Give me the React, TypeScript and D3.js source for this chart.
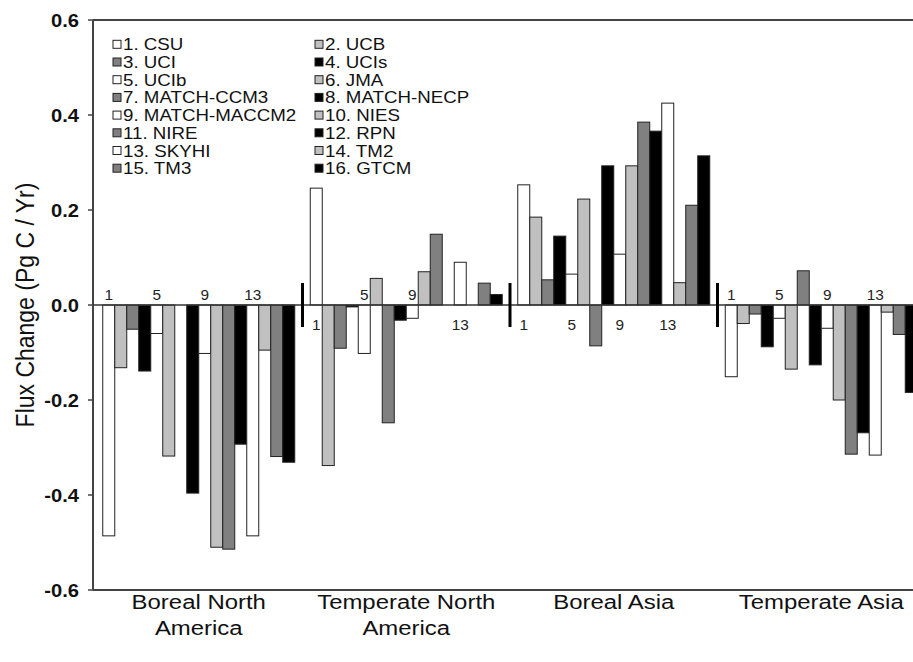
import React, { useEffect, useRef } from "react";
import * as d3 from "d3";

const regions = ["Boreal North America", "Temperate North America", "Boreal Asia", "Temperate Asia"];
const regionLines = [["Boreal North", "America"], ["Temperate North", "America"], ["Boreal Asia"], ["Temperate Asia"]];
const models = [
  "1. CSU", "2. UCB", "3. UCI", "4. UCIs", "5. UCIb", "6. JMA", "7. MATCH-CCM3", "8. MATCH-NECP",
  "9. MATCH-MACCM2", "10. NIES", "11. NIRE", "12. RPN", "13. SKYHI", "14. TM2", "15. TM3", "16. GTCM",
];
const borealNorthAmerica = [-0.486, -0.132, -0.051, -0.139, -0.06, -0.318, 0, -0.396, -0.102, -0.51, -0.514, -0.293, -0.486, -0.095, -0.319, -0.331];
const temperateNorthAmerica = [0.246, -0.338, -0.091, -0.004, -0.102, 0.056, -0.248, -0.032, -0.028, 0.07, 0.149, 0, 0.09, 0, 0.046, 0.022];
const borealAsia = [0.253, 0.185, 0.053, 0.145, 0.065, 0.223, -0.086, 0.293, 0.107, 0.293, 0.385, 0.366, 0.425, 0.047, 0.21, 0.314];
const temperateAsia = [-0.151, -0.039, -0.019, -0.088, -0.028, -0.135, 0.072, -0.126, -0.049, -0.2, -0.314, -0.269, -0.316, -0.015, -0.062, -0.184];
const yTicks = [0.6, 0.4, 0.2, 0, -0.2, -0.4, -0.6];
const markedModels = [1, 5, 9, 13];
const shades = ["#ffffff", "#c0c0c0", "#808080", "#000000"];

const FONT = "'Liberation Sans', Arial, sans-serif";

const App = () => {
  const svgRef = useRef<SVGSVGElement | null>(null);

  useEffect(() => {
    const width = 913;
    const height = 662;
    const series = [borealNorthAmerica, temperateNorthAmerica, borealAsia, temperateAsia];

    const svg = d3.select(svgRef.current).attr("width", width).attr("height", height);
    svg.selectAll("*").remove();

    const y = d3.scaleLinear().domain([-0.6, 0.6]).range([590, 20]);
    const x0 = d3.scaleBand().domain(regions).range([95, 925]);
    const x1 = d3
      .scaleBand<number>()
      .domain(models.map((_, i) => i))
      .range([0, x0.bandwidth()])
      .paddingInner(0)
      .paddingOuter(0.646);

    const left = 93;

    // bars
    const groups = svg
      .append("g")
      .selectAll("g")
      .data(regions)
      .join("g")
      .attr("transform", (d) => `translate(${x0(d)},0)`);

    groups
      .selectAll("rect")
      .data((_, gi) => series[gi].map((v, i) => ({ v, i })).filter((d) => d.v !== 0))
      .join("rect")
      .attr("x", (d) => x1(d.i)!)
      .attr("width", x1.bandwidth())
      .attr("y", (d) => y(Math.max(0, d.v)))
      .attr("height", (d) => Math.abs(y(d.v) - y(0)))
      .attr("fill", (d) => shades[d.i % 4])
      .attr("stroke", "#222")
      .attr("stroke-width", 1);

    // frame and zero line
    const frame = svg.append("g").attr("stroke", "#444").attr("stroke-width", 2).attr("fill", "none");
    frame.append("line").attr("x1", left).attr("x2", width).attr("y1", y(0.6)).attr("y2", y(0.6));
    frame.append("line").attr("x1", left).attr("x2", width).attr("y1", y(-0.6)).attr("y2", y(-0.6));
    frame.append("line").attr("x1", left).attr("x2", left).attr("y1", y(0.6)).attr("y2", y(-0.6));
    svg
      .append("line")
      .attr("x1", left)
      .attr("x2", width)
      .attr("y1", y(0))
      .attr("y2", y(0))
      .attr("stroke", "#333")
      .attr("stroke-width", 1.5);

    // y ticks
    const ticks = svg.append("g").selectAll("g").data(yTicks).join("g");
    ticks
      .append("line")
      .attr("x1", left - 5)
      .attr("x2", left)
      .attr("y1", (d) => y(d))
      .attr("y2", (d) => y(d))
      .attr("stroke", "#444")
      .attr("stroke-width", 1.5);
    ticks
      .append("text")
      .attr("transform", (d) => `translate(79,${y(d) + 6.5}) scale(1.12,1)`)
      .attr("text-anchor", "end")
      .attr("font-family", FONT)
      .attr("font-weight", "bold")
      .attr("font-size", 18)
      .attr("fill", "#111")
      .text((d) => d.toFixed(1));

    // region separators
    svg
      .append("g")
      .selectAll("line")
      .data(regions.slice(1))
      .join("line")
      .attr("x1", (d) => x0(d)!)
      .attr("x2", (d) => x0(d)!)
      .attr("y1", y(0) - 22)
      .attr("y2", y(0) + 22)
      .attr("stroke", "#000")
      .attr("stroke-width", 3);

    // model number marks near zero line
    groups
      .selectAll("text.mark")
      .data((_, gi) => markedModels.map((m) => ({ m, v: series[gi][m - 1] })))
      .join("text")
      .attr("class", "mark")
      .attr("transform", (d) => `translate(${x1(d.m - 1)! + x1.bandwidth() / 2},${d.v < 0 ? y(0) - 5 : y(0) + 25}) scale(1.1,1)`)
      .attr("text-anchor", "middle")
      .attr("font-family", FONT)
      .attr("font-size", 14)
      .attr("fill", "#222")
      .text((d) => String(d.m));

    // region labels
    const labels = svg
      .append("g")
      .selectAll("g")
      .data(regions)
      .join("g")
      .attr("transform", (d) => `translate(${x0(d)! + x0.bandwidth() / 2},0)`);
    labels
      .selectAll("text")
      .data((_, i) => regionLines[i])
      .join("text")
      .attr("transform", (_, j) => `translate(0,${609 + j * 26}) scale(1.14,1)`)
      .attr("text-anchor", "middle")
      .attr("font-family", FONT)
      .attr("font-size", 21)
      .attr("fill", "#111")
      .text((d) => d);

    // y title
    svg
      .append("text")
      .attr("transform", `translate(25,${y(0)}) rotate(-90) scale(1,1.1)`)
      .attr("text-anchor", "middle")
      .attr("dy", "0.35em")
      .attr("font-family", FONT)
      .attr("font-size", 23)
      .attr("fill", "#111")
      .text("Flux Change (Pg C / Yr)");

    // legend
    const legend = svg
      .append("g")
      .selectAll("g")
      .data(models)
      .join("g")
      .attr("transform", (_, i) => `translate(${i % 2 === 0 ? 113 : 315},${44.3 + Math.floor(i / 2) * 17.7})`);
    legend
      .append("rect")
      .attr("x", 0)
      .attr("y", -4)
      .attr("width", 8)
      .attr("height", 8)
      .attr("fill", (_, i) => shades[i % 4])
      .attr("stroke", "#222")
      .attr("stroke-width", 1);
    legend
      .append("text")
      .attr("transform", "translate(10,6) scale(1.17,1)")
      .attr("font-family", FONT)
      .attr("font-size", 16)
      .attr("fill", "#111")
      .text((d) => d);
  }, []);

  return (
    <div style={{ position: "absolute", left: 0, top: 0 }}>
      <svg ref={svgRef} style={{ display: "block", background: "white" }} />
    </div>
  );
};

export default App;
